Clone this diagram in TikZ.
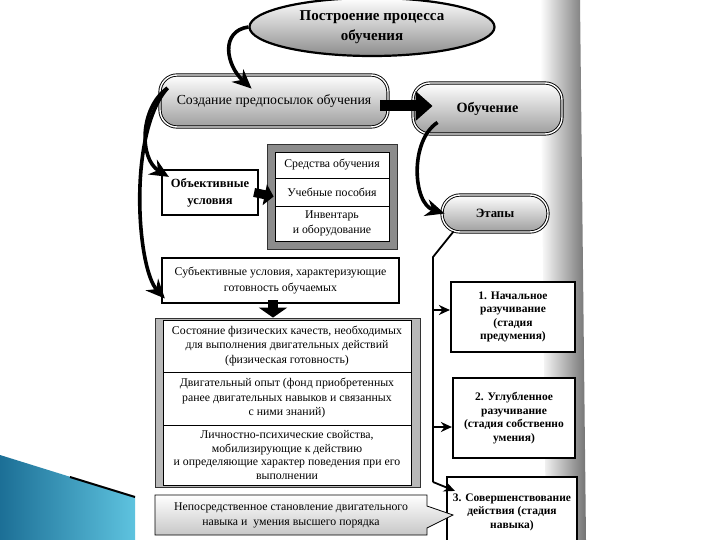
\documentclass[tikz,border=0pt]{standalone}
\usepackage{fontspec}
\setmainfont{Liberation Serif}
\usetikzlibrary{shapes.geometric,shapes.callouts,arrows.meta,calc}
\definecolor{bluedark}{HTML}{1C6F96}
\definecolor{bluelight}{HTML}{5EC3DF}
\tikzset{
  nt/.style={font=\fontsize{11.8}{14.5}\selectfont},
  bt/.style={font=\bfseries\fontsize{11.5}{13.5}\selectfont},
  ell/.style={ellipse, draw, line width=2.2pt, minimum width=245, minimum height=58, inner sep=0pt,
     top color=white, bottom color=black!45, align=center, font=\bfseries\fontsize{15}{20}\selectfont},
  pill/.style={rectangle, rounded corners=17pt, draw, line width=0.9pt, double=white, double distance=1.4pt,
     top color=white, bottom color=black!38, align=center, inner sep=0pt},
  thickbox/.style={rectangle, draw, line width=2.2pt, fill=white, align=center, inner sep=0pt},
  cell/.style={rectangle, draw, line width=0.8pt, fill=white, align=center, inner sep=0pt, nt},
  frame/.style={rectangle, draw=black!80, line width=0.8pt, inner sep=0pt},
  curv/.style={line width=3.6pt, -{Stealth[length=19pt,width=17pt]}},
  vline/.style={line width=1.8pt},
  tarrow/.style={line width=1.8pt, -{Stealth[length=11pt,width=10pt]}},
}
\begin{document}
\begin{tikzpicture}[x=1pt,y=1pt]
\useasboundingbox (0,0) rectangle (720,-540);
\clip (0,0) rectangle (720,-540);
\fill[white] (0,0) rectangle (720,-540);
% scanned page edge shading
\shade[left color=white, right color=black!55] (540,0) -- (580,0) -- (586,-540) -- (546,-540) -- cycle;
% blue decoration
\shade[left color=bluedark, right color=bluelight] (0,-455) -- (135,-497) -- (135,-540) -- (0,-540) -- cycle;
\draw[line width=2pt] (70,-477) -- (135,-497);

% nodes
\node[ell] (title) at (372,-27) {Построение процесса\\обучения};
\node[pill, minimum width=228, minimum height=52, font=\fontsize{13.8}{15}\selectfont] (sozd) at (274,-101) {Создание предпосылок обучения};
\node[pill, minimum width=149, minimum height=51, font=\bfseries\fontsize{14.2}{15}\selectfont] (obuch) at (487.5,-108.5) {Обучение};
\node[pill, rounded corners=18pt, minimum width=106, minimum height=37, font=\bfseries\fontsize{12.7}{14}\selectfont] (etapy) at (495,-213.5) {Этапы};

\node[thickbox, minimum width=96, minimum height=45, font=\bfseries\fontsize{12.5}{17}\selectfont] (obj) at (210,-192.5) {Объективные\\условия};

\node[frame, fill=black!45, minimum width=130, minimum height=105] (gridframe) at (332,-196.5) {};
\node[cell, minimum width=114, minimum height=26] (sred) at (332,-165) {Средства обучения};
\node[cell, minimum width=114, minimum height=28] (ucheb) at (332,-192) {Учебные пособия};
\node[cell, minimum width=114, minimum height=35, font=\fontsize{11.8}{15}\selectfont] (inv) at (332,-223.5) {Инвентарь\\и оборудование};

\node[thickbox, minimum width=237, minimum height=45, font=\fontsize{11.8}{16}\selectfont] (subj) at (280.5,-280.5) {Субъективные условия, характеризующие\\готовность обучаемых};

\node[frame, fill=black!28, minimum width=265, minimum height=169] (bigframe) at (287.5,-402.5) {};
\node[cell, minimum width=248, minimum height=52] (r1) at (287,-346) {Состояние физических качеств, необходимых\\для выполнения двигательных действий\\(физическая готовность)};
\node[cell, minimum width=248, minimum height=53] (r2) at (287,-398.5) {Двигательный опыт (фонд приобретенных\\ранее двигательных навыков и связанных\\с ними знаний)};
\node[cell, minimum width=248, minimum height=60, font=\fontsize{11.8}{13.8}\selectfont] (r3) at (287,-455) {Личностно-психические свойства,\\мобилизирующие к действию\\и определяющие характер поведения при его\\выполнении};

\node[thickbox, bt, minimum width=124, minimum height=70] (box1) at (513,-317) {1. Начальное\\разучивание\\(стадия\\предумения)};
\node[thickbox, bt, minimum width=122, minimum height=80] (box2) at (514,-418) {2. Углубленное\\разучивание\\(стадия собственно\\умения)};
\node[thickbox, bt, minimum width=130, minimum height=70] (box3) at (512,-512) {3. Совершенствование\\действия (стадия\\навыка)};

\node[rectangle callout, draw, line width=0.8pt, top color=white, bottom color=black!22, align=center,
      font=\fontsize{11.8}{15}\selectfont, inner sep=0pt, minimum width=272, minimum height=40,
      callout absolute pointer={(453,-515)}, callout pointer width=22pt] (call) at (291,-515)
      {Непосредственное становление двигательного\\навыка и\ \ умения высшего порядка};

% thick straight arrows
\draw[line width=11pt, -{Triangle[length=17pt,width=29pt]}] ($(sozd.east)+(-8,-5)$) -- ($(obuch.west)+(20,2.5)$);
\draw[line width=9pt, -{Triangle[length=9pt,width=21pt]}] ($(obj.east)+(-5,0)$) -- ($(gridframe.west)+(7,0)$);
\draw[line width=10pt, -{Triangle[length=10pt,width=28pt]}] ($(subj.south)+(-7.5,4)$) -- ($(bigframe.north)+(-14.5,0)$);

% curved arrows
\draw[curv] (title.west) .. controls +(-28,-4) and +(-26,24) .. ($(sozd.north west)+(92,-14)$);
\draw[curv] ($(obuch.south west)+(25,12)$) .. controls +(-28,-18) and +(-32,10) .. ($(etapy.west)+(3,0)$);
\draw[curv] ($(sozd.west)+(8,13)$) .. controls +(-28,-20) and +(-30,18) .. ($(obj.north west)+(8,-8)$);
\draw[curv] ($(sozd.west)+(8,13)$) .. controls +(-40,-45) and +(-28,30) .. ($(subj.west)+(4,-18)$);

% stages connector
\coordinate (vtop) at (433,-257);
\coordinate (vbot) at (433,-482);
\coordinate (v1) at (433,-310);
\coordinate (v2) at (433,-427);
\draw[vline, line join=round] ($(etapy.south west)+(12,1)$) -- (vtop) -- (vbot);
\draw[tarrow] (vbot) -- ($(box3.north west)+(9,-15)$);
\draw[tarrow] (v1) -- (v1 -| box1.west);
\draw[tarrow] (v2) -- (v2 -| box2.west);
\end{tikzpicture}
\end{document}
